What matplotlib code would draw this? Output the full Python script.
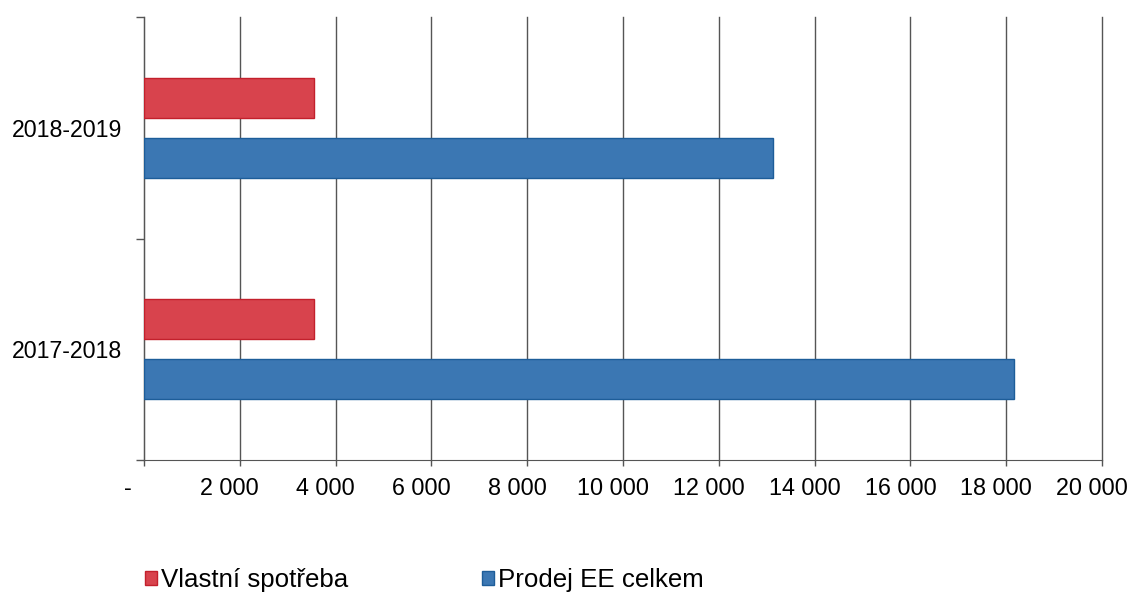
import numpy as np
import matplotlib.pyplot as plt
from matplotlib.transforms import ScaledTranslation

# data
years = ['2017-2018', '2018-2019']
vlastni_spotreba = [3550, 3550]
prodej_ee = [18170, 13130]
series_names = ['Vlastní spotřeba', 'Prodej EE celkem']
xticks = list(range(0, 20001, 2000))
xtick_labels = ['-'] + ['{:,}'.format(v).replace(',', ' ') for v in xticks[1:]]

plt.rcParams['font.family'] = ['Liberation Sans', 'DejaVu Sans']

fig = plt.figure(figsize=(11.32, 5.93), dpi=100)
ax = fig.add_axes([144 / 1132, 1 - 460 / 593, 958 / 1132, 443 / 593])

y = np.arange(len(years))
h = 0.18
ax.barh(y + 0.135, vlastni_spotreba, height=h, color='#d8434d',
        edgecolor='#c3202c', linewidth=1, label=series_names[0], zorder=3)
ax.barh(y - 0.135, prodej_ee, height=h, color='#3b77b3',
        edgecolor='#1d5d99', linewidth=1, label=series_names[1], zorder=3)

ax.set_xlim(0, 20000)
ax.set_ylim(-0.5, 1.5)

ax.set_xticks(xticks)
ax.set_xticklabels(xtick_labels, fontsize=16.8)
ax.set_yticks(y)
ax.set_yticklabels(years, fontsize=16.7)
ax.set_yticks([-0.5, 0.5, 1.5], minor=True)

# pads and lengths are in points (1 px = 0.72 pt here)
ax.tick_params(axis='x', direction='out', length=4.3, width=1, color='#555555', pad=8)
ax.tick_params(axis='y', which='major', length=0, pad=15.8)
ax.tick_params(axis='y', which='minor', direction='out', length=5.5, width=1, color='#555555')

# shift x labels a bit to the left like the original
for i, lab in enumerate(ax.get_xticklabels()):
    dx = -16 if i == 0 else -10
    lab.set_transform(lab.get_transform() + ScaledTranslation(dx / 100, 0, fig.dpi_scale_trans))

ax.grid(axis='x', color='#555555', linewidth=1, zorder=0)
for gl in ax.get_xgridlines():
    gl.set_clip_on(False)
for s in ['top', 'right']:
    ax.spines[s].set_visible(False)
ax.spines['left'].set_color('#555555')
ax.spines['bottom'].set_color('#555555')

fig.legend(loc='center left', bbox_to_anchor=(145 / 1132, 1 - 580 / 593), ncol=2,
           frameon=False, fontsize=18.6, handlelength=0.47, handleheight=0.47,
           handletextpad=0.16, columnspacing=5.15, borderpad=0, borderaxespad=0)

fig.savefig('out.png', dpi=100)
